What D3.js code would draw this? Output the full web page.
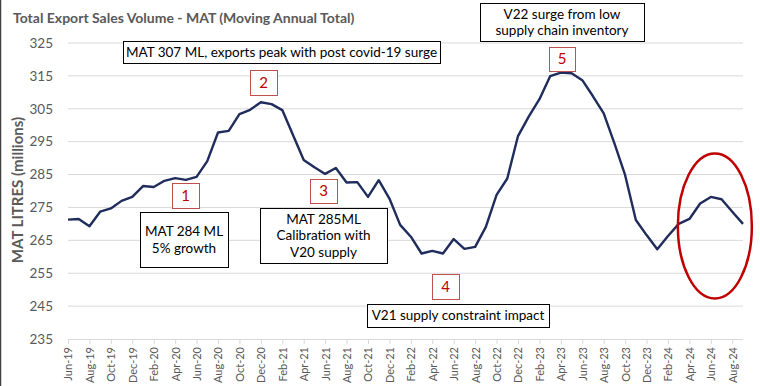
<!DOCTYPE html>
<html>
<head>
<meta charset="utf-8">
<script src="https://cdn.jsdelivr.net/npm/d3@7"></script>
<style>
  body { margin: 0; background: #fff; }
  svg { display: block; font-family: Lato, "Open Sans", sans-serif; }
</style>
</head>
<body>
<svg id="chart" width="760" height="386"></svg>
<script>
// months on the category axis
const months = [
  "Jun-19","Jul-19","Aug-19","Sep-19","Oct-19","Nov-19","Dec-19","Jan-20","Feb-20","Mar-20",
  "Apr-20","May-20","Jun-20","Jul-20","Aug-20","Sep-20","Oct-20","Nov-20","Dec-20","Jan-21",
  "Feb-21","Mar-21","Apr-21","May-21","Jun-21","Jul-21","Aug-21","Sep-21","Oct-21","Nov-21",
  "Dec-21","Jan-22","Feb-22","Mar-22","Apr-22","May-22","Jun-22","Jul-22","Aug-22","Sep-22",
  "Oct-22","Nov-22","Dec-22","Jan-23","Feb-23","Mar-23","Apr-23","May-23","Jun-23","Jul-23",
  "Aug-23","Sep-23","Oct-23","Nov-23","Dec-23","Jan-24","Feb-24","Mar-24","Apr-24","May-24",
  "Jun-24","Jul-24","Aug-24","Sep-24"
];
// MAT litres (millions)
const mat = [
  271.3, 271.5, 269.3, 273.7, 274.7, 277.0, 278.2, 281.5, 281.2, 283.1,
  283.9, 283.4, 284.3, 289.1, 297.8, 298.3, 303.4, 304.7, 307.0, 306.4,
  304.6, 297.0, 289.4, 287.2, 285.2, 287.0, 282.6, 282.7, 278.2, 283.3,
  277.7, 269.7, 266.1, 261.0, 261.8, 261.0, 265.4, 262.4, 263.0, 269.1,
  278.8, 283.8, 296.7, 302.6, 307.9, 314.9, 316.0, 315.8, 313.7, 308.8,
  303.6, 294.5, 284.8, 271.2, 266.6, 262.3, 266.3, 270.0, 271.5, 276.2,
  278.2, 277.5, 273.7, 270.0
];
const yTicks = [235, 245, 255, 265, 275, 285, 295, 305, 315, 325];

// annotation boxes (text lines) and numbered markers
const notes = [
  { lines: ["MAT 307 ML, exports peak with post covid-19 surge"], box: [123, 41, 440, 63] },
  { lines: ["V22 surge from low", "supply chain inventory"], box: [480, 3, 644, 41] },
  { lines: ["MAT 284 ML", "5% growth"], box: [140, 212, 228, 267] },
  { lines: ["MAT 285ML", "Calibration with", "V20 supply"], box: [260, 208, 387, 263] },
  { lines: ["V21 supply constraint impact"], box: [367, 304, 549, 327] }
];
const markers = [
  { label: "1", box: [172, 183, 199, 208] },
  { label: "2", box: [250, 70, 277, 95] },
  { label: "3", box: [310, 179, 337, 203] },
  { label: "4", box: [432, 274, 459, 299] },
  { label: "5", box: [549, 47, 575, 71] }
];

const svg = d3.select("#chart");
const pl = 68, pr = 743, pt = 43, pb = 339;

const x = d3.scalePoint().domain(months).range([pl, pr]);
const y = d3.scaleLinear().domain([235, 325]).range([pb, pt]);

// frame edge on the left
svg.append("line").attr("x1", 0.5).attr("x2", 0.5).attr("y1", 0).attr("y2", 386)
  .attr("stroke", "#404040").attr("stroke-width", 1.5);

// title
svg.append("text").attr("x", 13).attr("y", 23)
  .attr("fill", "#595959").attr("font-weight", "bold").attr("font-size", 14)
  .text("Total Export Sales Volume - MAT (Moving Annual Total)");

// grid
svg.append("g").selectAll("line").data(yTicks.slice(1)).join("line")
  .attr("x1", pl).attr("x2", pr)
  .attr("y1", d => y(d)).attr("y2", d => y(d))
  .attr("stroke", "#d9d9d9").attr("stroke-width", 1);

// y axis labels
const yAxis = svg.append("g").attr("transform", `translate(${pl},0)`)
  .call(d3.axisLeft(y).tickValues(yTicks).tickSize(0).tickPadding(15));
yAxis.select(".domain").remove();
yAxis.selectAll("text").attr("font-family", "Lato").attr("font-size", 13.5).attr("fill", "#595959");

svg.append("text")
  .attr("transform", `translate(23,190) rotate(-90)`)
  .attr("text-anchor", "middle").attr("fill", "#595959")
  .attr("font-weight", "bold").attr("font-size", 15)
  .text("MAT LITRES (millions)");

// x axis
const xAxis = svg.append("g").attr("transform", `translate(0,${pb})`)
  .call(d3.axisBottom(x).tickValues(months.filter((m, i) => i % 2 === 0)).tickSize(5).tickPadding(4));
xAxis.select(".domain").attr("stroke", "#d9d9d9").attr("d", `M${pl},0.5H${pr}`);
xAxis.selectAll(".tick line").attr("stroke", "#d9d9d9");
xAxis.selectAll("text")
  .attr("font-family", "Lato").attr("font-size", 11).attr("fill", "#595959")
  .attr("transform", "rotate(-90)").attr("text-anchor", "end")
  .attr("x", -8).attr("y", 0).attr("dy", "0.35em");

// line
const line = d3.line().x((d, i) => x(months[i])).y(d => y(d));
svg.append("path").datum(mat)
  .attr("d", line).attr("fill", "none")
  .attr("stroke", "#1f2c5c").attr("stroke-width", 2.4).attr("stroke-linejoin", "round");

// annotation boxes
notes.forEach(n => {
  const [x0, y0, x1, y1] = n.box;
  const g = svg.append("g");
  g.append("rect").attr("x", x0 + 0.5).attr("y", y0 + 0.5)
    .attr("width", x1 - x0).attr("height", y1 - y0)
    .attr("fill", "#fff").attr("stroke", "#000").attr("stroke-width", 1);
  const lh = 16.5;
  const cy = (y0 + y1) / 2 - (n.lines.length - 1) * lh / 2;
  n.lines.forEach((t, i) => {
    g.append("text").attr("x", (x0 + x1) / 2).attr("y", cy + i * lh)
      .attr("dy", "0.36em").attr("text-anchor", "middle")
      .attr("font-size", 13.5).attr("fill", "#000").text(t);
  });
});

markers.forEach(m => {
  const [x0, y0, x1, y1] = m.box;
  svg.append("rect").attr("x", x0 + 0.5).attr("y", y0 + 0.5)
    .attr("width", x1 - x0).attr("height", y1 - y0)
    .attr("fill", "#fff").attr("stroke", "#c0504d").attr("stroke-width", 1);
  svg.append("text").attr("x", (x0 + x1) / 2).attr("y", (y0 + y1) / 2)
    .attr("dy", "0.36em").attr("text-anchor", "middle")
    .attr("font-size", 15).attr("fill", "#c00000").text(m.label);
});

// red circle around the latest months
svg.append("ellipse")
  .attr("cx", (x("Mar-24") + x("Sep-24")) / 2 + 4).attr("cy", 226)
  .attr("rx", 37).attr("ry", 72.5)
  .attr("fill", "none").attr("stroke", "#c00000").attr("stroke-width", 2.5);
</script>
</body>
</html>
